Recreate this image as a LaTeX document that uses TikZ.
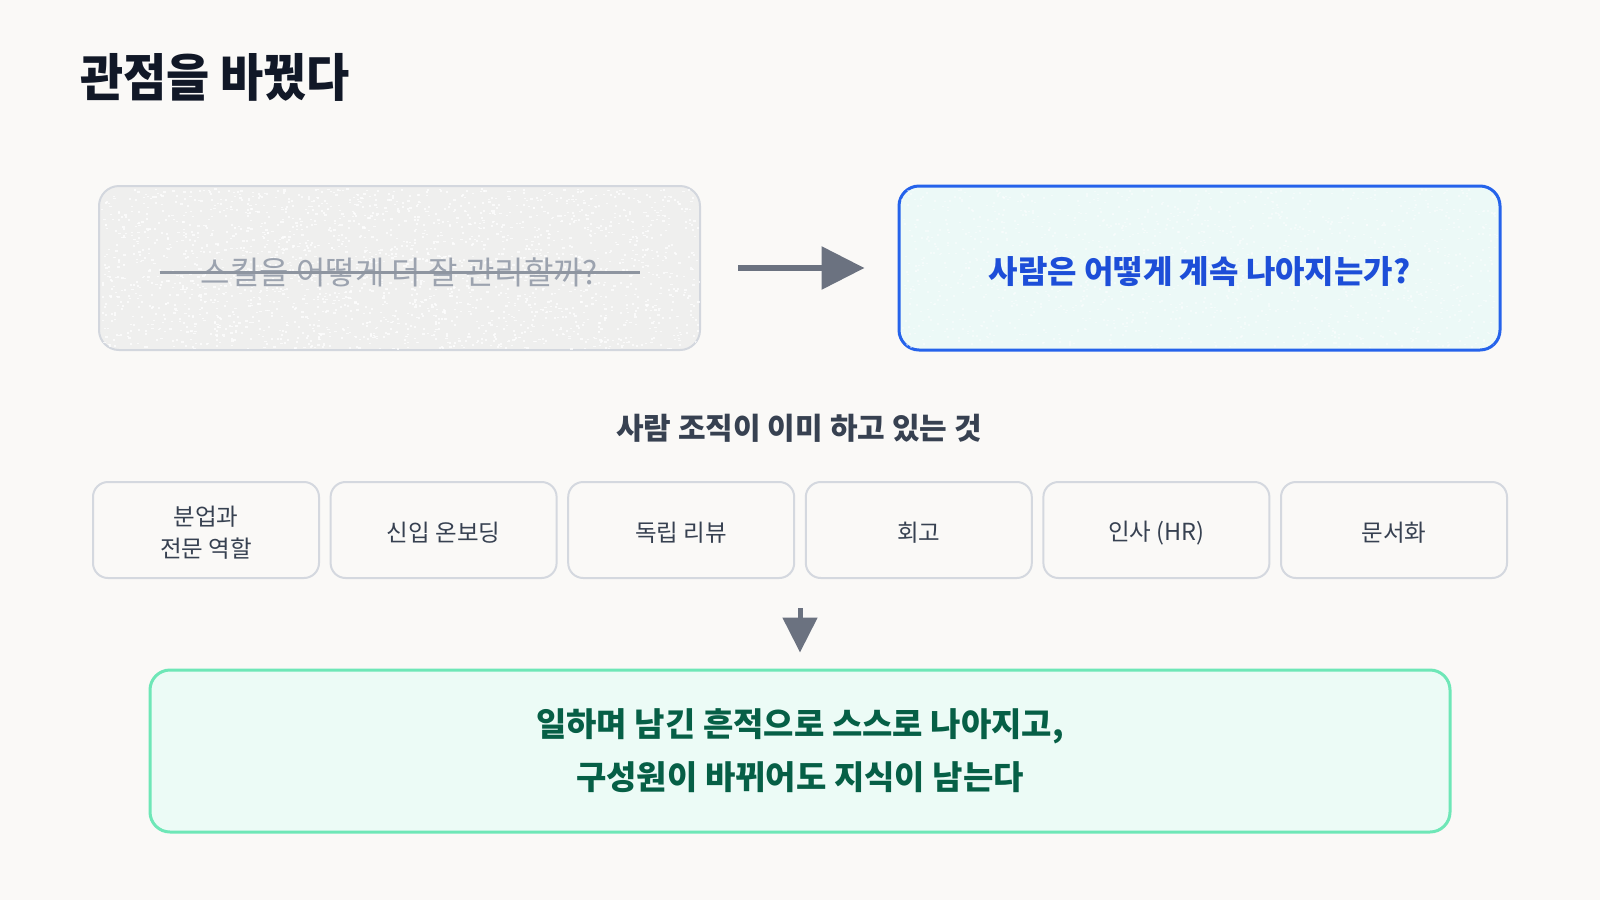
\documentclass[tikz,border=0pt]{standalone}
\usepackage{fontspec}
\setmainfont{Noto Sans CJK KR}
\newfontfamily\titlefont{Noto Sans CJK KR}[FakeStretch=0.92]
\usetikzlibrary{arrows.meta,calc}
\definecolor{bg}{HTML}{FAF9F7}
\definecolor{titlec}{HTML}{111827}
\definecolor{oldfill}{HTML}{EFEFEE}
\definecolor{oldline}{HTML}{D3D7DE}
\definecolor{oldtext}{HTML}{9CA3AF}
\definecolor{strikec}{HTML}{8E95A0}
\definecolor{arrowc}{HTML}{6B7280}
\definecolor{newline}{HTML}{2563EB}
\definecolor{newfill}{HTML}{ECF9F7}
\definecolor{newtext}{HTML}{1D4ED8}
\definecolor{subc}{HTML}{374151}
\definecolor{chipline}{HTML}{D4D8DF}
\definecolor{greenline}{HTML}{6EE7B7}
\definecolor{greenfill}{HTML}{ECFBF6}
\definecolor{greentext}{HTML}{065F46}
\tikzset{
  bigbox/.style={rounded corners=20pt, minimum width=601pt, minimum height=164pt, inner sep=0pt},
  oldbox/.style={bigbox, draw=oldline, line width=2pt, fill=oldfill},
  newbox/.style={bigbox, draw=newline, line width=3pt, fill=newfill},
  oldlabel/.style={inner sep=0pt, text=oldtext, font=\fontsize{32}{38}\selectfont},
  newlabel/.style={inner sep=0pt, text=newtext, font=\bfseries\fontsize{32}{38}\selectfont},
  chiplabel/.style={inner sep=0pt, align=center, text=subc, font=\fontsize{23.5}{32}\selectfont, yshift=-3pt},
  chip/.style={draw=chipline, line width=2pt, fill=bg, rounded corners=15pt,
    minimum width=226pt, minimum height=96pt, inner sep=0pt,
    label={[chiplabel]center:#1}},
  greenbox/.style={draw=greenline, line width=3pt, fill=greenfill, rounded corners=20pt,
    minimum width=1300pt, minimum height=162pt, inner sep=0pt, align=center,
    text=greentext, font=\bfseries\fontsize{33}{53}\selectfont},
  bigarrow/.style={draw=arrowc, line width=6pt, -{Triangle[length=43pt,width=42pt]}},
  downarrow/.style={draw=arrowc, line width=5pt, -{Triangle[length=35pt,width=34pt]}},
  strike/.style={draw=strikec, line width=3pt},
  speck/.style={fill=white, opacity=0.75},
  softspeck/.style={fill=white, opacity=0.45}
}
\begin{document}
\begin{tikzpicture}[x=1pt,y=-1pt]
\useasboundingbox[fill=bg] (0,0) rectangle (1600,900);
\node[anchor=base west, inner sep=0pt, text=titlec, font=\titlefont\bfseries\fontsize{51}{60}\selectfont] (title) at (80,96) {관점을 바꿨다};
% old question
\node[oldbox] (old) at (399.5,268) {};
\begin{scope}
  \clip[rounded corners=19pt] ($(old.south west)+(1,-1)$) rectangle ($(old.north east)+(-1,1)$);
  \pgfmathsetseed{7}
  \foreach \i in {1,...,2200}{
    \pgfmathsetmacro{\px}{101+598*rnd}
    \pgfmathsetmacro{\py}{188+160*rnd}
    \fill[speck] (\px,\py) rectangle ++(2.2,1.6);
  }
\end{scope}
\node[oldlabel] (oldq) at ($(old.center)+(0,4)$) {스킬을 어떻게 더 잘 관리할까?};
\draw[strike] ($(old.center)+(-240,4)$) -- ($(old.center)+(240,4)$);
% new question
\node[newbox] (new) at (1199.5,268) {};
\begin{scope}
  \clip[rounded corners=19pt] ($(new.south west)+(2,-2)$) rectangle ($(new.north east)+(-2,2)$);
  \pgfmathsetseed{11}
  \foreach \i in {1,...,1500}{
    \pgfmathsetmacro{\px}{901+597*rnd}
    \pgfmathsetmacro{\py}{189+158*rnd}
    \fill[softspeck] (\px,\py) rectangle ++(2,1.5);
  }
\end{scope}
\node[newlabel] (newq) at ($(new.center)+(0,4)$) {사람은 어떻게 계속 나아지는가?};
\draw[bigarrow, shorten <=37pt, shorten >=33pt] (old.east) -- (new.west);
% practices
\node[text=subc, font=\bfseries\fontsize{30}{34}\selectfont, inner sep=0pt] (sub) at (799,428) {사람 조직이 이미 하고 있는 것};
\node[chip={분업과\\전문 역할}] (c1) at (206,530) {};
\node[chip={신입 온보딩}] (c2) at (443.6,530) {};
\node[chip={독립 리뷰}] (c3) at (681.2,530) {};
\node[chip={회고}] (c4) at (918.8,530) {};
\node[chip={인사 (HR)}] (c5) at (1156.4,530) {};
\node[chip={문서화}] (c6) at (1394,530) {};
% outcome
\node[greenbox] (goal) at (800,751) {일하며 남긴 흔적으로 스스로 나아지고,\\구성원이 바뀌어도 지식이 남는다};
\coordinate (rowbot) at ($(c3.south east)!0.5!(c4.south west)$);
\draw[downarrow, shorten <=29pt, shorten >=16pt] (rowbot) -- (rowbot |- goal.north);
\end{tikzpicture}
\end{document}
